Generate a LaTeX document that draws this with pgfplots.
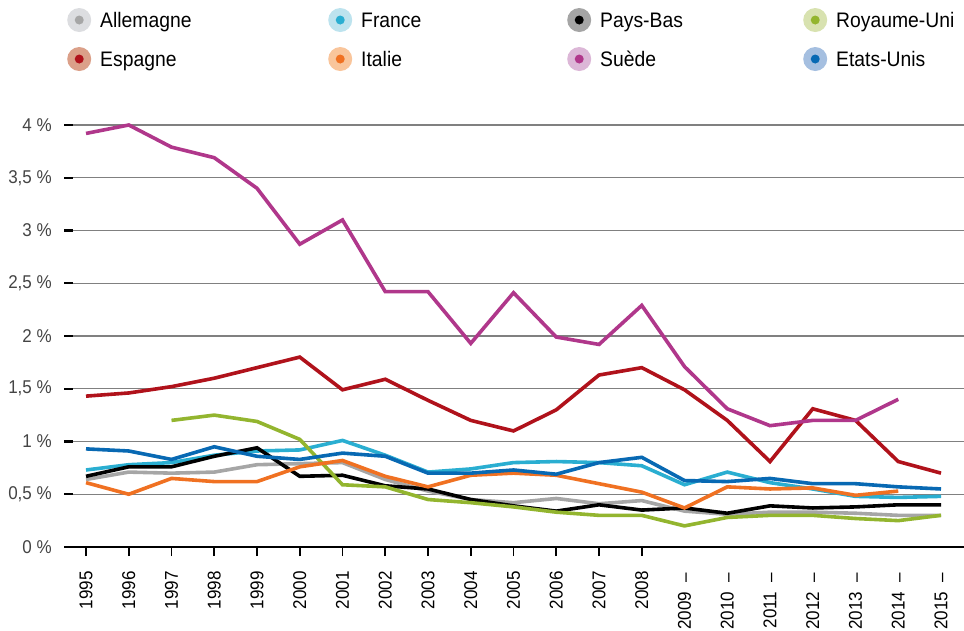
\documentclass[border=0pt]{standalone}
\usepackage{pgfplots}
\pgfplotsset{compat=1.18}
\usepackage{pgfplotstable}
\usepackage{fontspec}
\setmainfont{Liberation Sans}[FakeStretch=0.92]
\definecolor{cAll}{HTML}{A6A6A6}\definecolor{hAll}{HTML}{DCDDE0}
\definecolor{cFra}{HTML}{2AAED1}\definecolor{hFra}{HTML}{BDE3EE}
\definecolor{cPB}{HTML}{000000}\definecolor{hPB}{HTML}{A5A5A5}
\definecolor{cRU}{HTML}{93B52F}\definecolor{hRU}{HTML}{D8E2B0}
\definecolor{cEsp}{HTML}{B0121B}\definecolor{hEsp}{HTML}{DBA089}
\definecolor{cIta}{HTML}{F07122}\definecolor{hIta}{HTML}{F9C59B}
\definecolor{cSue}{HTML}{B0378B}\definecolor{hSue}{HTML}{DCB7D7}
\definecolor{cEU}{HTML}{0869B3}\definecolor{hEU}{HTML}{A5BFE0}
\definecolor{gridc}{HTML}{808080}
\definecolor{tickc}{HTML}{444444}
\newcommand\legimg[2]{\fill[#1,draw=none] (12bp,0bp) circle[radius=12bp];\fill[#2,draw=none] (12bp,0bp) circle[radius=4.5bp];\path[draw=none,fill=none] (0bp,0bp) -- (33bp,0bp);}
\newcommand\yd[1]{#1\hspace{9bp}\textendash}
\pgfplotstableread{
year All Fra PB RU Esp Ita Sue EU
1995 0.64 0.73 0.67 nan 1.43 0.61 3.92 0.93
1996 0.71 0.78 0.76 nan 1.46 0.50 4.00 0.91
1997 0.70 0.80 0.76 1.20 1.52 0.65 3.79 0.83
1998 0.71 0.87 0.86 1.25 1.60 0.62 3.69 0.95
1999 0.78 0.91 0.94 1.19 1.70 0.62 3.40 0.86
2000 0.79 0.92 0.67 1.02 1.80 0.76 2.87 0.83
2001 0.80 1.01 0.68 0.59 1.49 0.82 3.10 0.89
2002 0.64 0.87 0.58 0.57 1.59 0.67 2.42 0.86
2003 0.53 0.71 0.55 0.45 1.39 0.57 2.42 0.70
2004 0.45 0.74 0.45 0.42 1.20 0.68 1.93 0.70
2005 0.42 0.80 0.39 0.38 1.10 0.70 2.41 0.73
2006 0.46 0.81 0.34 0.33 1.30 0.68 1.99 0.69
2007 0.41 0.80 0.40 0.30 1.63 0.60 1.92 0.80
2008 0.44 0.77 0.35 0.30 1.70 0.52 2.29 0.85
2009 0.34 0.59 0.37 0.20 1.49 0.37 1.71 0.63
2010 0.31 0.71 0.32 0.28 1.20 0.57 1.31 0.62
2011 0.33 0.61 0.39 0.30 0.81 0.55 1.15 0.65
2012 0.33 0.55 0.37 0.30 1.31 0.56 1.20 0.60
2013 0.32 0.48 0.38 0.27 1.20 0.49 1.20 0.60
2014 0.30 0.47 0.40 0.25 0.81 0.53 1.40 0.57
2015 0.30 0.48 0.40 0.30 0.70 nan nan 0.55
}\datatable
\begin{document}
\begin{tikzpicture}
\useasboundingbox (-64bp,-84bp) rectangle (900bp,547bp);
\begin{axis}[
  at={(0,0)}, anchor=south west,
  x=42.75bp, y=105.5bp,
  xmin=1994.485, xmax=2015.54, ymin=0, ymax=4,
  clip=false,
  axis x line*=bottom, axis y line*=left,
  y axis line style={draw=none},
  x axis line style={black, line width=2.2bp, -},
  xtick={1995,1996,1997,1998,1999,2000,2001,2002,2003,2004,2005,2006,2007,2008},
  xticklabels={1995,1996,1997,1998,1999,2000,2001,2002,2003,2004,2005,2006,2007,2008},
  extra x ticks={2009,2010,2011,2012,2013,2014,2015},
  extra x tick labels={{\yd{2009}},{\yd{2010}},{\yd{2011}},{\yd{2012}},{\yd{2013}},{\yd{2014}},{\yd{2015}}},
  extra x tick style={major tick length=0pt, grid=none, xticklabel style={xshift=-11bp}},
  ytick={0,0.5,1,1.5,2,2.5,3,3.5,4},
  yticklabels={{0~\%},{0,5~\%},{1~\%},{1,5~\%},{2~\%},{2,5~\%},{3~\%},{3,5~\%},{4~\%}},
  ymajorgrids=true, xmajorgrids=false,
  major grid style={color=gridc, line width=1.3bp},
  tick align=outside, major tick length=9bp,
  xtick style={black, line width=1.6bp},
  ytick style={black, line width=2.2bp, xshift=9bp},
  xticklabel style={rotate=90, anchor=east, inner sep=0pt, xshift=-15bp, font=\fontsize{18.5bp}{20bp}\selectfont},
  yticklabel style={anchor=east, inner xsep=0pt, xshift=-3bp, color=tickc, font=\fontsize{18.5bp}{20bp}\selectfont},
  every axis plot/.append style={line width=3.6bp},
  legend columns=4,
  legend cell align=left,
  legend style={at={(axis description cs:0.0036,1.2772)}, anchor=north west, draw=none, fill=none,
    inner sep=0pt, outer sep=0pt, column sep=0pt, row sep=15bp,
    nodes={inner sep=0pt, text height=15.2bp, text depth=0bp, font=\fontsize{21bp}{24bp}\selectfont}},
]
\addplot[cAll, legend image code/.code={\legimg{hAll}{cAll}}] table[x=year,y=All]{\datatable};
\addlegendentry{\makebox[228bp][l]{Allemagne}}
\addplot[cFra, legend image code/.code={\legimg{hFra}{cFra}}] table[x=year,y=Fra]{\datatable};
\addlegendentry{\makebox[206bp][l]{France}}
\addplot[cPB, legend image code/.code={\legimg{hPB}{cPB}}] table[x=year,y=PB]{\datatable};
\addlegendentry{\makebox[203bp][l]{Pays-Bas}}
\addplot[cRU, legend image code/.code={\legimg{hRU}{cRU}}] table[x=year,y=RU]{\datatable};
\addlegendentry{Royaume-Uni}
\addplot[cEsp, legend image code/.code={\legimg{hEsp}{cEsp}}] table[x=year,y=Esp]{\datatable};
\addlegendentry{Espagne}
\addplot[cIta, legend image code/.code={\legimg{hIta}{cIta}}] table[x=year,y=Ita]{\datatable};
\addlegendentry{Italie}
\addplot[cSue, legend image code/.code={\legimg{hSue}{cSue}}] table[x=year,y=Sue]{\datatable};
\addlegendentry{Suède}
\addplot[cEU, legend image code/.code={\legimg{hEU}{cEU}}] table[x=year,y=EU]{\datatable};
\addlegendentry{Etats-Unis}
\end{axis}
\end{tikzpicture}
\end{document}
